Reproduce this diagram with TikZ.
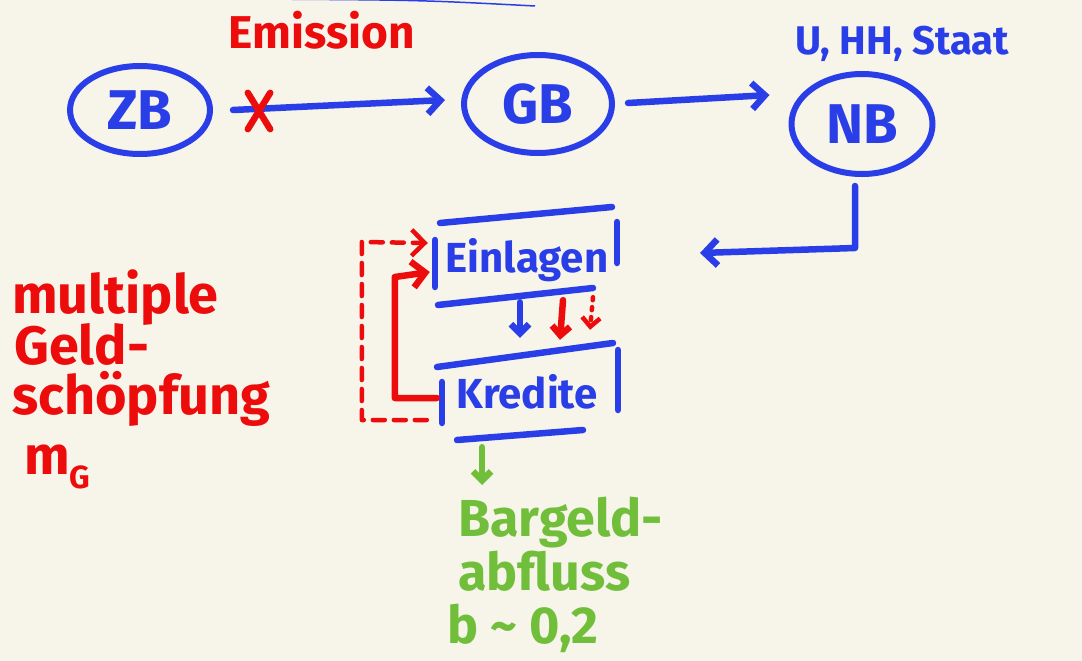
\documentclass[tikz,border=0pt]{standalone}
\usepackage{fontspec}
\setmainfont{Fira Sans}
\usetikzlibrary{shapes.geometric,shapes.misc,arrows.meta}
\definecolor{bg}{RGB}{247,244,234}
\definecolor{pblue}{RGB}{42,62,232}
\definecolor{pred}{RGB}{236,12,12}
\definecolor{pgreen}{RGB}{112,190,58}
\tikzset{
  pen/.style={line width=6.5pt, line cap=round, line join=round},
  bluepen/.style={pen, draw=pblue},
  redpen/.style={pen, draw=pred},
  greenpen/.style={pen, draw=pgreen},
  handarrow/.style={-{Straight Barb[length=13pt,width=26pt]}},
  smallarrow/.style={-{Straight Barb[length=9pt,width=18pt]}},
  bank/.style={ellipse, draw=pblue, line width=6pt, inner sep=0pt, text=pblue,
    font=\fontsize{56}{56}\selectfont\bfseries},
  bluetext/.style={text=pblue, inner sep=0pt, font=\fontsize{40}{40}\selectfont\bfseries},
  redtext/.style={text=pred, inner sep=0pt, font=\fontsize{54}{54}\selectfont\bfseries},
  greentext/.style={text=pgreen, inner sep=0pt, font=\fontsize{52}{52}\selectfont\bfseries},
  boxtext/.style={text=pblue, inner sep=0pt, minimum width=180pt, minimum height=80pt,
    font=\fontsize{42}{42}\selectfont\bfseries},
}
\begin{document}
\begin{tikzpicture}[x=1pt,y=-1pt]
\fill[bg] (0,0) rectangle (1082,661);
\useasboundingbox (0,0) rectangle (1082,661);

\draw[pblue, line width=1.5pt] (250,-1) .. controls (420,0) .. (535,6);

% top row
\node[redtext, font=\fontsize{46}{46}\selectfont\bfseries] (emi) at (322,30) {Emission};
\node[bank, minimum width=140pt, minimum height=88pt] (zb) at (140,110) {ZB};
\node[bank, minimum width=148pt, minimum height=98pt] (gb) at (538,104) {GB};
\node[bank, minimum width=141pt, minimum height=100pt] (nb) at (862,124) {NB};
\node[bluetext, anchor=base west] (sek) at (795,55) {U, HH, Staat};

\draw[bluepen, handarrow] ([xshift=20pt]zb.east) -- ([xshift=-16pt,yshift=4pt]gb.west);
\node[inner sep=0pt, minimum width=22pt, minimum height=36pt] (x) at (259,111) {};
\draw[redpen] (x.north west) -- (x.south east);
\draw[redpen] (x.north east) -- (x.south west);
\draw[bluepen, handarrow] ([xshift=13pt,yshift=1pt]gb.east) -- ([xshift=-19pt,yshift=29pt]nb.west);

% boxes
\node[boxtext] (ein) at (527,260) {Einlagen};
\node[boxtext] (kre) at (527,392) {Kredite};
\draw[bluepen] (440,223) -- (612,207);
\draw[bluepen] (435,240) -- (435,287);
\draw[bluepen] (617,222) -- (617,263);
\draw[bluepen] (438,305) -- (593,288);
\draw[bluepen] (437,367) -- (613,343);
\draw[bluepen] (442,382) -- (442,423);
\draw[bluepen] (618,350) -- (618,410);
\draw[bluepen] (457,440) -- (583,430);

% NB to Einlagen
\coordinate (inflow) at (700,253);
\draw[bluepen, handarrow] ([xshift=-7pt,yshift=-9pt]nb.south) -- ++(0,62) -- (inflow);

% arrows between boxes
\draw[bluepen, smallarrow] ([xshift=-7pt,yshift=-2pt]ein.south) -- ([xshift=-7pt,yshift=14pt]kre.north);
\draw[redpen, smallarrow] ([xshift=36pt]ein.south) -- ([xshift=33pt,yshift=12pt]kre.north);
\draw[redpen, smallarrow, line width=4.5pt, dash pattern=on 3pt off 7pt] ([xshift=66pt,yshift=3pt]ein.south) -- ([xshift=63pt,yshift=22pt]kre.north);

% red loops
\draw[redpen, handarrow] ([yshift=-6pt]kre.west) -- ++(-42,0) -- ++(0,-121) -- ([xshift=-7pt,yshift=-12pt]ein.west);
\draw[redpen, handarrow, line width=4.5pt, dash pattern=on 12pt off 9pt] ([xshift=-10pt,yshift=-28pt]kre.west) -- ++(-65,0) -- ++(0,-178) -- ([xshift=-9pt,yshift=17pt]ein.west);

% left text
\node[redtext, anchor=base west] (l1) at (12,313) {multiple};
\node[redtext, anchor=base west] (l2) at (14,364) {Geld-};
\node[redtext, anchor=base west] (l3) at (12,414) {schöpfung};
\node[redtext, anchor=base west] (l4) at (24,474) {m\raisebox{-14pt}{\fontsize{32}{32}\selectfont G}};

% green
\coordinate (gend) at (482,485);
\draw[greenpen, smallarrow] ([xshift=-45pt,yshift=-15pt]kre.south) -- (gend);
\node[greentext, anchor=base west] (g1) at (458,536) {Bargeld-};
\node[greentext, anchor=base west] (g2) at (458,590) {abfluss};
\node[greentext, anchor=base west] (g3) at (447,643) {b \textasciitilde\ 0,2};
\end{tikzpicture}
\end{document}
